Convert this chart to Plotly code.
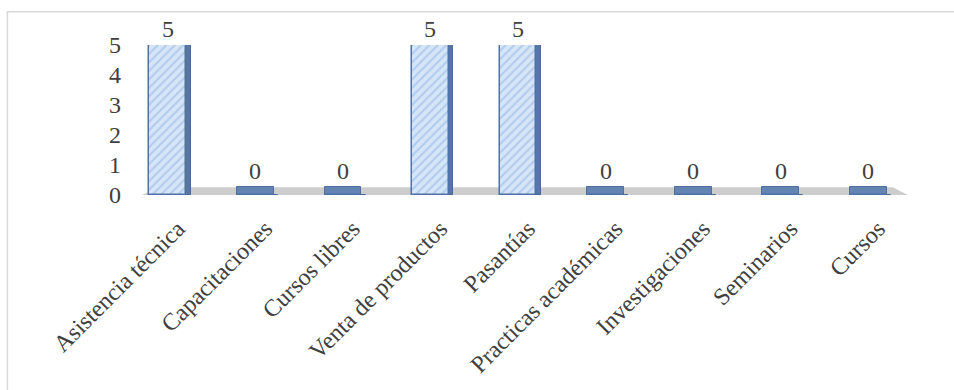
import plotly.graph_objects as go

# Activity categories and their counts
categories = [
    "Asistencia técnica", "Capacitaciones", "Cursos libres", "Venta de productos",
    "Pasantías", "Practicas académicas", "Investigaciones", "Seminarios", "Cursos",
]
values = [5, 0, 0, 5, 5, 0, 0, 0, 0]
y_ticks = [0, 1, 2, 3, 4, 5]

FONT = "Liberation Serif"
TEXT = "#404040"
FLOOR_TOP = 0.26   # visual thickness of the floor slab, in axis units
BAR_W = 0.42

fig = go.Figure()

# footprint of every bar resting on the floor slab
fig.add_trace(go.Bar(
    x=categories, y=[FLOOR_TOP + 0.07] * len(categories), base=-0.07,
    width=BAR_W, offset=-BAR_W / 2,
    marker=dict(color="#6383b3", line=dict(color="#4d6d9c", width=1)),
    hoverinfo="skip", showlegend=False,
))

# darker side face giving the bars some depth
fig.add_trace(go.Bar(
    x=categories, y=values, width=BAR_W, offset=-BAR_W / 2 + 0.05,
    marker=dict(color="#5776a6", line=dict(color="#4a6898", width=1)),
    hoverinfo="skip", showlegend=False,
))

# front face of the bars, hatched
fig.add_trace(go.Bar(
    x=categories, y=values, width=BAR_W, offset=-BAR_W / 2,
    marker=dict(
        color="#d2e2f6",
        line=dict(color="#4f72a6", width=1.5),
        pattern=dict(shape="/", fgcolor="#8fb1de", bgcolor="#d6e5f8",
                     size=6, solidity=0.35),
    ),
    showlegend=False,
))

# value labels above each bar (or above the floor for empty bars)
for cat, v in zip(categories, values):
    fig.add_annotation(
        x=cat, y=max(v, FLOOR_TOP), text=str(v), showarrow=False,
        yanchor="bottom", yshift=1,
        font=dict(family=FONT, size=24, color=TEXT),
    )

# grey floor slab
fig.add_shape(
    type="path", xref="x", yref="y", layer="below",
    path=f"M -0.35,-0.07 L 8.5,-0.07 L 8.28,{FLOOR_TOP} L -0.1,{FLOOR_TOP} Z",
    fillcolor="#cdcdcd", line=dict(width=0),
)

# outer chart frame
fig.add_shape(
    type="rect", xref="paper", yref="paper",
    x0=-0.148, x1=1.2, y0=-1.5, y1=1.222,
    line=dict(color="#d9d9d9", width=1.5), fillcolor="rgba(0,0,0,0)",
)

fig.update_layout(
    width=954, height=390,
    margin=dict(l=124, r=42, t=45, b=192),
    paper_bgcolor="white", plot_bgcolor="white",
    barmode="overlay", bargap=0,
    font=dict(family=FONT, size=24, color=TEXT),
    xaxis=dict(
        categoryorder="array", categoryarray=categories,
        range=[-0.5, 8.5], tickangle=-45, showline=False, showgrid=False,
        ticks="", ticklabelshift=10, ticklabelstandoff=14,
        tickfont=dict(family=FONT, size=24, color=TEXT),
    ),
    yaxis=dict(
        range=[0, 5], tickvals=y_ticks, showgrid=False, zeroline=False,
        showline=False, ticks="", ticklabelstandoff=2,
        tickfont=dict(family=FONT, size=24, color=TEXT),
    ),
)

fig.write_html("out.html")
